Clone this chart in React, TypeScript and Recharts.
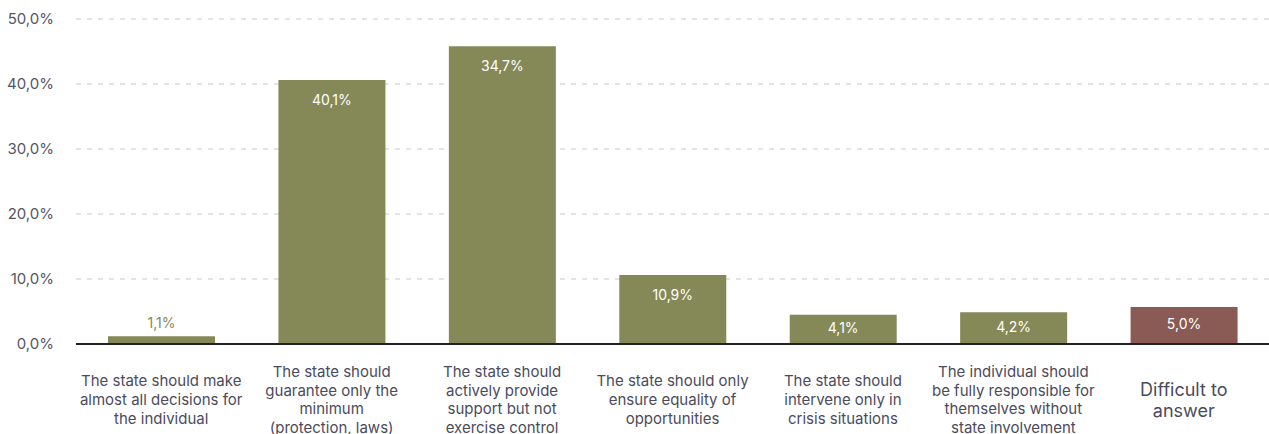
import React from 'react';
import { BarChart, Bar, XAxis, YAxis, CartesianGrid, Cell, LabelList } from 'recharts';

// Bar heights as drawn in the picture, and the labels printed on them (they don't agree in the source)
const categories = [
  'The state should make\nalmost all decisions for\nthe individual',
  'The state should\nguarantee only the\nminimum\n(protection, laws)',
  'The state should\nactively provide\nsupport but not\nexercise control',
  'The state should only\nensure equality of\nopportunities',
  'The state should\nintervene only in\ncrisis situations',
  'The individual should\nbe fully responsible for\nthemselves without\nstate involvement',
  'Difficult to\nanswer',
];
const barValues = [1.2, 40.6, 45.8, 10.6, 4.5, 4.9, 5.7];
const barLabels = ['1,1%', '40,1%', '34,7%', '10,9%', '4,1%', '4,2%', '5,0%'];
const yTicks = [0, 10, 20, 30, 40, 50];

const GREEN = '#858957';
const BROWN = '#8a5a54';

const chartData = categories.map((name, i) => ({
  name,
  value: barValues[i],
  label: barLabels[i],
}));

const CategoryTick = (props: any) => {
  const { x, y, payload } = props;
  const lines: string[] = String(payload.value).split('\n');
  const big = lines.length === 2 && payload.value.startsWith('Difficult');
  const fs = big ? 18 : 15;
  const lh = big ? 21 : 18.7;
  const cy = y + 55.5;
  return (
    <g>
      {lines.map((ln, i) => (
        <text
          key={i}
          x={x}
          y={cy + (i - (lines.length - 1) / 2) * lh}
          textAnchor="middle"
          dominantBaseline="central"
          fontSize={fs}
          fill="#4b4b5c"
          fontFamily="Inter, sans-serif"
        >
          {ln}
        </text>
      ))}
    </g>
  );
};

const BarValueLabel = (props: any) => {
  const { x, y, width, height, value } = props;
  const cx = x + width / 2;
  if (height < 20) {
    return (
      <text x={cx} y={y - 14} textAnchor="middle" dominantBaseline="central" fontSize={14}
        fill={GREEN} fontFamily="Inter, sans-serif">
        {value}
      </text>
    );
  }
  const ly = Math.min(y + 19, y + height / 2 - 2);
  return (
    <text x={cx} y={ly} textAnchor="middle" dominantBaseline="central" fontSize={14}
      fill="#ffffff" fontFamily="Inter, sans-serif">
      {value}
    </text>
  );
};

const App: React.FC = () => {
  return (
    <div style={{ position: 'absolute', left: 0, top: 0, width: 1269, height: 434, background: '#fff' }}>
      <BarChart
        width={1269}
        height={434}
        data={chartData}
        margin={{ top: 19, right: 0, left: 0, bottom: 0 }}
        barSize={107}
      >
        <CartesianGrid vertical={false} stroke="#c9c9c9" strokeDasharray="5 6" />
        <XAxis
          dataKey="name"
          interval={0}
          height={90}
          tickSize={0}
          tickMargin={0}
          tickLine={false}
          axisLine={{ stroke: '#222222', strokeWidth: 2 }}
          tick={<CategoryTick />}
        />
        <YAxis
          width={76}
          domain={[0, 50]}
          ticks={yTicks}
          tickSize={0}
          tickMargin={22}
          tickLine={false}
          axisLine={false}
          tickFormatter={(v: number) => `${v.toFixed(1).replace('.', ',')}%`}
          tick={{ fontSize: 15, fill: '#555565', fontFamily: 'Inter, sans-serif' }}
        />
        <Bar dataKey="value" isAnimationActive={false}>
          {chartData.map((d, i) => (
            <Cell key={`c-${i}`} fill={i === chartData.length - 1 ? BROWN : GREEN} />
          ))}
          <LabelList dataKey="label" content={<BarValueLabel />} />
        </Bar>
      </BarChart>
    </div>
  );
};

export default App;
